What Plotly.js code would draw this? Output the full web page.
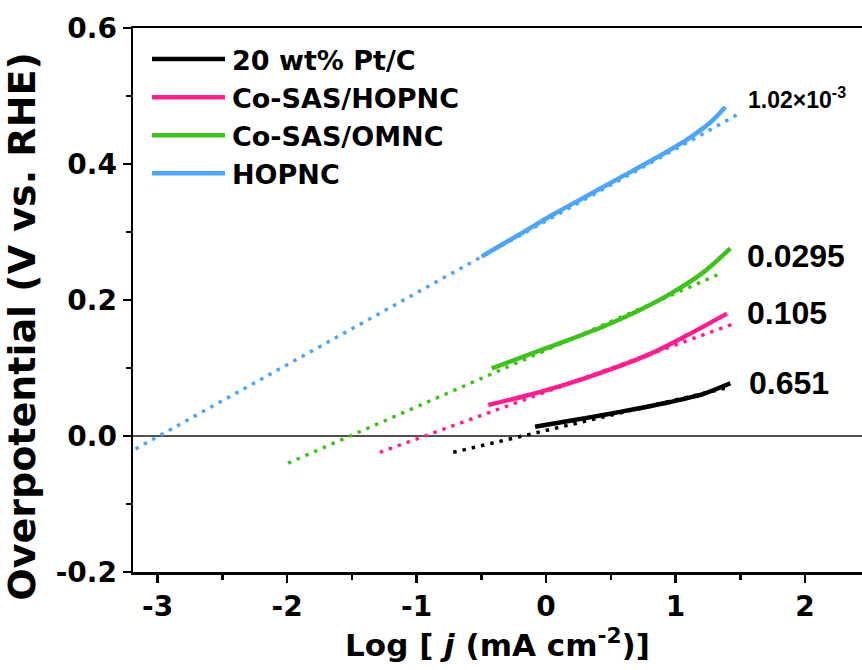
<!DOCTYPE html>
<html>
<head>
<meta charset="utf-8">
<script src="https://cdn.plot.ly/plotly-3.0.1.min.js"></script>
<style>
  html, body { margin: 0; padding: 0; background: #fff; }
  #chart { width: 862px; height: 670px; }
</style>
</head>
<body>
<div id="chart"></div>
<script>
// ---- Data ----
const seriesNames = ['20 wt% Pt/C', 'Co-SAS/HOPNC', 'Co-SAS/OMNC', 'HOPNC'];
const seriesColors = ['#000000', '#ff1f8e', '#3fc21d', '#4da4fb'];

// measured Tafel curves (log j, overpotential V)
const ptcX = [-0.085, 0.186, 0.443, 0.70, 0.959, 1.217, 1.423];
const ptcY = [0.0137, 0.0225, 0.031, 0.040, 0.050, 0.062, 0.0775];

const hopncCoX = [-0.446, -0.20, 0.057, 0.315, 0.572, 0.83, 1.088, 1.397];
const hopncCoY = [0.0456, 0.057, 0.0705, 0.086, 0.103, 0.123, 0.148, 0.180];

const omncX = [-0.42, -0.072, 0.186, 0.443, 0.70, 0.959, 1.217, 1.423];
const omncY = [0.0995, 0.124, 0.142, 0.161, 0.183, 0.209, 0.241, 0.276];

const hopncX = [-0.497, -0.20, 0.057, 0.315, 0.572, 0.83, 1.088, 1.268, 1.384];
const hopncY = [0.264, 0.297, 0.326, 0.353, 0.380, 0.407, 0.436, 0.461, 0.484];

// linear fits (dotted) endpoints
const ptcFitX = [-0.717, 1.40];
const ptcFitY = [-0.024, 0.071];
const hopncCoFitX = [-1.284, 1.462];
const hopncCoFitY = [-0.024, 0.166];
const omncFitX = [-1.993, 1.36];
const omncFitY = [-0.040, 0.240];
const hopncFitX = [-3.17, 1.51];
const hopncFitY = [-0.019, 0.476];

// exchange current labels
const fitLabels = ['0.651', '0.105', '0.0295', '1.02×10<sup>-3</sup>'];

// tick labels
const xTickVals = [-3, -2, -1, 0, 1, 2];
const xTickText = ['-3', '-2', '-1', '0', '1', '2'];
const yTickVals = [-0.2, 0.0, 0.2, 0.4, 0.6];
const yTickText = ['-0.2', '0.0', '0.2', '0.4', '0.6'];

// ---- Build traces ----
const curves = [[ptcX, ptcY], [hopncCoX, hopncCoY], [omncX, omncY], [hopncX, hopncY]];
const fits = [[ptcFitX, ptcFitY], [hopncCoFitX, hopncCoFitY], [omncFitX, omncFitY], [hopncFitX, hopncFitY]];

const traces = [];
fits.forEach((f, i) => {
  traces.push({
    x: f[0], y: f[1], type: 'scatter', mode: 'lines', showlegend: false,
    hoverinfo: 'skip',
    line: { color: seriesColors[i], width: 3.5, dash: '3.5px,6px' }
  });
});
curves.forEach((c, i) => {
  traces.push({
    x: c[0], y: c[1], type: 'scatter', mode: 'lines', name: seriesNames[i],
    line: { color: seriesColors[i], width: 4.5, shape: 'spline', smoothing: 0.8 }
  });
});

const PL = 133, PR = 862, PT = 28, PB = 572;
const W = PR - PL, H = PB - PT;
const px = v => (v - PL) / W;
const py = v => (PB - v) / H;

const labelPos = [[747, 383], [745, 313], [745, 256], [746, 98]];
const annotations = fitLabels.map((t, i) => ({
  xref: 'paper', yref: 'paper', x: px(labelPos[i][0]), y: py(labelPos[i][1]),
  xanchor: 'left', yanchor: 'middle', showarrow: false, text: t,
  font: { family: 'Liberation Sans, Arial, sans-serif', size: i === 3 ? 23 : 32, color: '#000', weight: 'bold' }
}));

const tickFont = { family: 'DejaVu Sans, sans-serif', size: 28, color: '#000', weight: 'bold' };

const layout = {
  width: 862, height: 670,
  margin: { l: PL, r: 0, t: PT, b: 670 - PB, pad: 0 },
  paper_bgcolor: '#fff', plot_bgcolor: '#fff',
  showlegend: true,
  legend: {
    x: px(152), y: py(35), xanchor: 'left', yanchor: 'top',
    bgcolor: 'rgba(0,0,0,0)', borderwidth: 0, itemwidth: 70,
    font: { family: 'DejaVu Sans, sans-serif', size: 27, color: '#000', weight: 'bold' },
    tracegroupgap: 0
  },
  xaxis: {
    range: [-3.19, 2.44], showgrid: false, zeroline: false,
    showline: true, linecolor: '#000', linewidth: 2.5, mirror: true,
    ticks: 'outside', ticklen: 8, tickwidth: 2.5, tickcolor: '#000',
    tickvals: xTickVals, ticktext: xTickText, tickfont: tickFont,
    minor: { dtick: 0.5, tick0: 0, ticks: 'outside', ticklen: 5, tickwidth: 2.5, tickcolor: '#000' },
    title: { text: 'Log [ <i>j</i> (mA cm<sup>-2</sup>)]', standoff: 10,
      font: { family: 'DejaVu Sans, sans-serif', size: 31, color: '#000', weight: 'bold' } }
  },
  yaxis: {
    range: [-0.2, 0.6], showgrid: false,
    zeroline: true, zerolinecolor: '#505050', zerolinewidth: 2,
    showline: true, linecolor: '#000', linewidth: 2.5, mirror: false,
    ticks: 'outside', ticklen: 8, tickwidth: 2.5, tickcolor: '#000',
    tickvals: yTickVals, ticktext: yTickText, tickfont: tickFont,
    minor: { dtick: 0.1, tick0: 0, ticks: 'outside', ticklen: 5, tickwidth: 2.5, tickcolor: '#000' },
    title: { text: 'Overpotential (V vs. RHE)&nbsp;&nbsp;&nbsp;&nbsp;', standoff: 9,
      font: { family: 'DejaVu Sans, sans-serif', size: 38, color: '#000', weight: 'bold' } }
  },
  annotations: annotations
};

Plotly.newPlot('chart', traces, layout, { staticPlot: true }).then(gd => {
  gd.querySelectorAll('.legend .legendlines path').forEach(p => p.setAttribute('d', 'M0,0h73'));
});
</script>
</body>
</html>
